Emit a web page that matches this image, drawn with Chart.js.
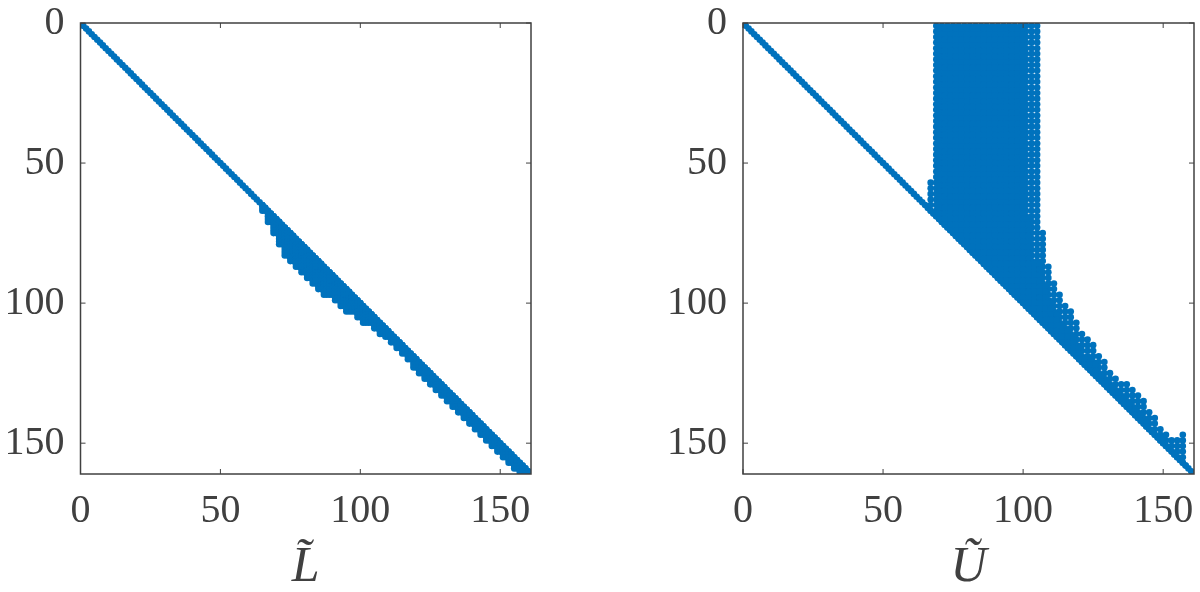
<!DOCTYPE html>
<html lang="en">
<head>
<meta charset="UTF-8" />
<title>Sparsity of L and U factors</title>
<script src="https://cdn.jsdelivr.net/npm/chart.js"></script>
<style>
  * { margin: 0; padding: 0; box-sizing: border-box; }
  body { background: #fff; width: 1200px; height: 592px; overflow: hidden; position: relative; }
  canvas { position: absolute; top: 0; }
  #lChart { left: 0; }
  #uChart { left: 600px; }
</style>
</head>
<body>
<canvas id="lChart" width="600" height="592"></canvas>
<canvas id="uChart" width="600" height="592"></canvas>
<script>
const matrixSize = 161;
const tickValues = [0, 50, 100, 150];
const blue = '#0072BD';
const ink = '#404040';

// L: lowest filled row of the odd columns below the diagonal
const lColumns = [65, 67, 69, 71, 73, 75, 77, 79, 81, 83, 85, 87, 89, 91, 93, 95, 97, 99, 101, 103, 105, 107, 109, 111, 113, 115, 117, 119, 121, 123, 125, 127, 129, 131, 133, 135, 137, 139, 141, 143, 145, 147, 149, 151, 153, 155, 157, 159];
const lLastRows = [67, 71, 75, 79, 83, 85, 87, 89, 91, 93, 95, 97, 97, 99, 101, 103, 103, 105, 107, 107, 109, 111, 112, 114, 116, 118, 120, 123, 125, 127, 129, 131, 133, 135, 137, 139, 141, 143, 145, 147, 149, 151, 153, 155, 157, 159, 161, 161];

// U: odd columns, first filled row (every second row from there to the diagonal)
const uOddColumns = [67, 69, 71, 73, 75, 77, 79, 81, 83, 85, 87, 89, 91, 93, 95, 97, 99, 101, 103, 105, 107, 109, 111, 113, 115, 117, 119, 121, 123, 125, 127, 129, 131, 133, 135, 137, 139, 141, 143, 145, 147, 149, 151, 153, 155, 157];
const uOddFirstRows = [57, 1, 1, 1, 1, 1, 1, 1, 1, 1, 1, 1, 1, 1, 1, 1, 1, 1, 1, 1, 75, 87, 93, 97, 101, 103, 107, 111, 113, 115, 119, 121, 125, 127, 129, 129, 131, 133, 135, 139, 141, 145, 147, 149, 149, 147];

// U: even columns, first row that is filled
const uEvenColumns = [68, 70, 72, 74, 76, 78, 80, 82, 84, 86, 88, 90, 92, 94, 96, 98, 100, 102, 104, 106, 108, 110, 112, 114, 116, 118, 120, 122, 124, 126, 128, 130, 132, 134, 136, 138, 140, 142, 144, 146, 148, 150, 152, 154, 156, 158];
const uEvenFirstRows = [68, 2, 2, 2, 2, 2, 2, 2, 2, 2, 2, 2, 2, 2, 2, 2, 2, 70, 86, 86, 94, 100, 104, 108, 110, 112, 116, 120, 120, 122, 126, 128, 130, 132, 134, 136, 138, 140, 142, 146, 148, 148, 152, 154, 156, 158];

function diagonalPoints() {
  const pts = [];
  for (let i = 1; i <= matrixSize; i++) pts.push({ x: i, y: i });
  return pts;
}

function lPoints() {
  const pts = diagonalPoints();
  lColumns.forEach((c, k) => {
    const last = lLastRows[k];
    for (let r = c; r <= last; r++) pts.push({ x: c, y: r });
    for (let r = c + 1; r <= last; r++) pts.push({ x: c + 1, y: r });
  });
  return pts;
}

function uPoints() {
  const pts = diagonalPoints();
  const addColumn = (c, first) => {
    for (let r = first; r <= c; r += 2) pts.push({ x: c, y: r });
  };
  uOddColumns.forEach((c, k) => addColumn(c, uOddFirstRows[k]));
  uEvenColumns.forEach((c, k) => addColumn(c, uEvenFirstRows[k]));
  return pts;
}

// box round the plot, with short ticks pointing inward on all four sides
const boxPlugin = {
  id: 'box',
  afterDatasetsDraw(chart) {
    const { ctx, chartArea: a, scales } = chart;
    ctx.save();
    ctx.strokeStyle = ink;
    ctx.lineWidth = 1.5;
    ctx.strokeRect(a.left, a.top, a.right - a.left, a.bottom - a.top);
    ctx.lineWidth = 1;
    ctx.beginPath();
    tickValues.forEach(v => {
      const x = scales.x.getPixelForValue(v);
      const y = scales.y.getPixelForValue(v);
      ctx.moveTo(x, a.bottom); ctx.lineTo(x, a.bottom - 5);
      ctx.moveTo(x, a.top); ctx.lineTo(x, a.top + 5);
      ctx.moveTo(a.left, y); ctx.lineTo(a.left + 5, y);
      ctx.moveTo(a.right, y); ctx.lineTo(a.right - 5, y);
    });
    ctx.stroke();
    ctx.restore();
  }
};

function noScalePadding(s) {
  s.paddingTop = s.paddingBottom = s.paddingLeft = s.paddingRight = 0;
}

function makeSpy(id, points, label, leftSpace, rightSpace) {
  new Chart(document.getElementById(id), {
    type: 'scatter',
    data: { datasets: [{ data: points, backgroundColor: blue, borderWidth: 0, pointRadius: 3.3, pointHoverRadius: 3.3, clip: 0 }] },
    plugins: [boxPlugin],
    options: {
      responsive: false,
      animation: false,
      events: [],
      layout: { autoPadding: false, padding: { top: 23, right: rightSpace, left: 0, bottom: 0 } },
      plugins: { legend: { display: false }, tooltip: { enabled: false } },
      scales: {
        x: {
          type: 'linear', min: 0, max: matrixSize,
          afterBuildTicks: s => { s.ticks = tickValues.map(v => ({ value: v })); },
          afterFit: s => { s.height = 118; noScalePadding(s); },
          grid: { display: false },
          border: { display: false },
          ticks: { color: ink, padding: 5, maxRotation: 0, font: { family: 'Liberation Serif', size: 40 } },
          title: { display: true, text: label, color: ink, padding: { top: 0, bottom: -6 }, font: { family: 'Liberation Serif', style: 'italic', size: 50 } }
        },
        y: {
          type: 'linear', min: 0, max: matrixSize, reverse: true,
          afterBuildTicks: s => { s.ticks = tickValues.map(v => ({ value: v })); },
          afterFit: s => { s.width = leftSpace; noScalePadding(s); },
          grid: { display: false },
          border: { display: false },
          ticks: { color: ink, padding: 8, font: { family: 'Liberation Serif', size: 40 } }
        }
      }
    }
  });
}

makeSpy('lChart', lPoints(), 'L\u0303', 80.5, 69);
makeSpy('uChart', uPoints(), 'U\u0303', 143, 6);
</script>
</body>
</html>
